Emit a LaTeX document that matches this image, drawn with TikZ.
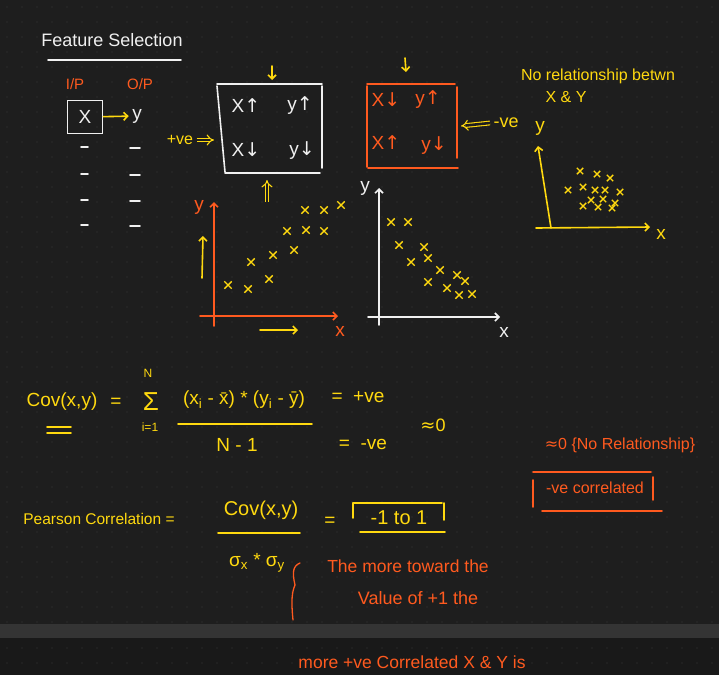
\documentclass[tikz,border=0pt]{standalone}
\usepackage{fontspec}
\setmainfont{Liberation Sans}
\newfontfamily\symf{DejaVu Sans}
\usetikzlibrary{positioning,arrows.meta,calc,shapes.misc}
\definecolor{nbback}{HTML}{1E1E1E}
\definecolor{nbdeep}{HTML}{191919}
\definecolor{nbdot}{HTML}{383838}
\definecolor{nbband}{HTML}{343434}
\definecolor{nbyellow}{HTML}{FFD90F}
\definecolor{nborange}{HTML}{FF5A1F}
\definecolor{nbwhite}{HTML}{F0F0F0}

\tikzset{
  ink/.style={line width=1.6pt, line cap=round},
  tip/.style={-{Straight Barb[length=4pt,width=8pt]}},
  dbl/.style={nbyellow, line width=1.1pt, double=nbback, double distance=2.6pt, -{Implies}},
  xmark/.style={cross out, draw=nbyellow, line width=1.4pt, minimum size=6pt, inner sep=0pt},
  hand/.style={font=\fontsize{16}{18}\selectfont},
  big/.style={font=\fontsize{19}{21}\selectfont},
  small/.style={font=\fontsize{15}{17}\selectfont},
  tiny/.style={font=\fontsize{12}{14}\selectfont},
}

\begin{document}
\begin{tikzpicture}[x=1pt,y=-1pt]
  % page and dot grid
  \fill[nbback] (0,0) rectangle (719,675);
  \foreach \i in {0,...,47}
    \foreach \j in {0,...,41}
      \fill[nbdot] (\i*15+7,\j*15+7) circle (0.6pt);
  \fill[nbband] (0,624) rectangle (719,638);
  \fill[nbdeep] (0,638) rectangle (719,675);
  \foreach \i in {0,...,47}
    \foreach \j in {0,1}
      \fill[nbdot] (\i*15+7,\j*15+648) circle (0.6pt);

  % title
  \node[nbwhite, font=\fontsize{18}{20}\selectfont] (title) at (112,40) {Feature Selection};
  \draw[nbwhite!85, ink] (48,60) -- (181,60);

  % input / output
  \node[nborange, small] (inp) at (75,84) {I/P};
  \node[nborange, small] (outp) at (140,84) {O/P};
  \node[draw=nbyellow, ink, minimum width=35pt, minimum height=33pt, nbwhite, big] (xin) at (85,117) {X};
  \node[nbwhite, big] (yout) at (137,116) {y};
  \draw[nbyellow, ink, tip] (xin) -- (yout);
  \foreach \y in {147,174,200,225} {
    \draw[nbwhite, ink] (81,\y) -- (88,\y);
    \draw[nbwhite, ink] (130,\y+1) -- (140,\y+1);
  }

  % positive box
  \draw[nbwhite, ink] (217,86) -- (225,172);
  \draw[nbwhite, ink] (217,84) -- (322,84);
  \draw[nbwhite, ink] (322,86) -- (322,168);
  \draw[nbwhite, ink] (225,173) -- (320,173);
  \node[nbwhite, big] (pxu) at (246,106) {X{\symf↑}};
  \node[nbwhite, big] (pyu) at (300,106) {y{\symf↑}};
  \node[nbwhite, big] (pxd) at (246,150) {X{\symf↓}};
  \node[nbwhite, big] (pyd) at (302,151) {y{\symf↓}};
  \coordinate (ptop) at (272,80);
  \draw[nbyellow, ink, tip] (272,66) -- (ptop);
  \node[nbyellow, hand] (pve) at (180,140) {+ve};
  \coordinate (pwest) at (214,140);
  \draw[dbl] (pve.east) -- (pwest);
  \coordinate (pbot) at (267,180);
  \draw[dbl] (267,202) -- (pbot);

  % negative box
  \draw[nborange, ink] (367,84) -- (455,84);
  \draw[nborange, ink] (367,86) -- (367,167);
  \draw[nborange, ink] (457,87) -- (457,158);
  \draw[nborange, ink] (368,168) -- (458,168);
  \node[nborange, big] (nxd) at (386,100) {X{\symf↓}};
  \node[nborange, big] (nyu) at (428,100) {y{\symf↑}};
  \node[nborange, big] (nxu) at (386,143) {X{\symf↑}};
  \node[nborange, big] (nyd) at (434,146) {y{\symf↓}};
  \coordinate (ntop) at (406,72);
  \draw[nbyellow, ink, tip] (405,58) -- (ntop);
  \node[nbyellow, font=\fontsize{18}{20}\selectfont] (nve) at (506,123) {-ve};
  \coordinate (neast) at (461,126);
  \draw[dbl] (nve.west) -- (neast);

  % no relationship
  \node[nbyellow, hand] (norel) at (598,76) {No relationship betwn};
  \node[nbyellow, hand] (noxy) at (566,97) {X \& Y};
  \coordinate (zo) at (551,228);
  \coordinate (zy) at (538,146);
  \coordinate (zx) at (650,227);
  \draw[nbyellow, ink, tip] (zo) -- (zy);
  \draw[nbyellow, ink, tip] (536,228) -- (zx);
  \node[nbyellow, big] (zylab) at (540,128) {y};
  \node[nbyellow, big] (zxlab) at (661,234) {x};
  \foreach \p in {(580,171),(597,174),(610,178),(568,190),(583,187),(595,190),(605,190),(620,192),
                  (591,200),(603,199),(615,203),(583,206),(598,207),(612,208)}
    \node[xmark, minimum size=5pt] at \p {};

  % positive scatter
  \coordinate (po) at (214,326);
  \coordinate (py) at (214,202);
  \coordinate (px) at (338,316);
  \draw[nborange, ink, tip] (po) -- (py);
  \draw[nborange, ink, tip] (200,316) -- (px);
  \node[nborange, big] (pylab) at (199,207) {y};
  \node[nborange, big] (pxlab) at (340,331) {x};
  \coordinate (pup) at (203,236);
  \draw[nbyellow, ink, tip] (202,278) -- (pup);
  \coordinate (pright) at (298,330);
  \draw[nbyellow, ink, tip] (260,330) -- (pright);
  \foreach \p in {(228,285),(248,289),(269,279),(251,262),(273,255),(294,250),
                  (287,231),(306,230),(324,231),(305,210),(324,210),(341,205)}
    \node[xmark] at \p {};

  % negative scatter
  \coordinate (no) at (379,325);
  \coordinate (ny) at (379,188);
  \coordinate (nx) at (500,317);
  \draw[nbwhite, ink, tip] (no) -- (ny);
  \draw[nbwhite, ink, tip] (368,317) -- (nx);
  \node[nbwhite, big] (nylab) at (365,188) {y};
  \node[nbwhite, big] (nxlab) at (504,332) {x};
  \foreach \p in {(391,222),(408,222),(399,245),(424,247),(411,262),(428,258),(440,270),
                  (457,275),(465,281),(428,282),(447,288),(459,295),(472,294)}
    \node[xmark] at \p {};

  % covariance
  \node[nbyellow, big] (cov) at (62,402) {Cov(x,y)};
  \draw[nbyellow, ink] (47,427) -- (71,427);
  \draw[nbyellow, ink] (47,433) -- (71,433);
  \node[nbyellow, big] (coveq) at (116,403) {=};
  \node[nbyellow, font=\fontsize{26}{26}\selectfont] (sig) at (151,402) {Σ};
  \node[nbyellow, tiny] (sigtop) at (148,373) {N};
  \node[nbyellow, tiny] (sigbot) at (150,427) {i=1};
  \node[nbyellow, big] (num) at (244,400) {(x\textsubscript{i} - \={x}) * (y\textsubscript{i} - \={y})};
  \draw[nbyellow, ink] (178,424) -- (312,424);
  \node[nbyellow, big] (den) at (237,445) {N - 1};
  \node[nbyellow, big] (cpos) at (358,397) {=~~+ve};
  \node[nbyellow, big] (cneg) at (363,444) {=~~-ve};
  \node[nbyellow, font=\fontsize{18}{20}\selectfont] (czero) at (433,425) {{\symf≈}0};

  % correlated notes
  \node[nborange, hand] (zeronote) at (620,445) {{\symf≈}0 \{No Relationship\}};
  \node[nborange, hand] (negnote) at (595,488) {-ve correlated};
  \draw[nborange, ink] (533,472) -- (651,472);
  \draw[nborange, ink] (533,480) -- (533,507);
  \draw[nborange, ink] (653,477) -- (653,500);
  \draw[nborange, ink] (542,511) -- (662,511);

  % pearson
  \node[nbyellow, font=\fontsize{15.5}{18}\selectfont] (pear) at (99,519) {Pearson Correlation =};
  \node[nbyellow, font=\fontsize{20}{22}\selectfont] (pnum) at (261,510) {Cov(x,y)};
  \draw[nbyellow, ink] (218,533) -- (300,533);
  \node[nbyellow, font=\fontsize{19}{21}\selectfont] (pden) at (257,563) {σ\textsubscript{x} * σ\textsubscript{y}};
  \node[nbyellow, big] (peq) at (330,522) {=};
  \node[nbyellow, font=\fontsize{20}{22}\selectfont] (prange) at (399,518) {-1 to 1};
  \draw[nbyellow, ink] (353,503) -- (442,503);
  \draw[nbyellow, ink] (353,503) -- (353,518);
  \draw[nbyellow, ink] (444,503) -- (444,520);
  \draw[nbyellow, ink] (360,532) -- (445,532);
  \draw[nborange, line width=1.3pt, line cap=round]
    (300,563) .. controls (293,566) and (292,572) .. (295,585)
    .. controls (292,592) and (291,600) .. (293,620);
  \node[nborange, font=\fontsize{17.5}{20}\selectfont] (note1) at (408,566) {The more toward the};
  \node[nborange, font=\fontsize{18}{20}\selectfont] (note2) at (418,598) {Value of +1 the};
  \node[nborange, font=\fontsize{17.5}{20}\selectfont] (note3) at (412,662) {more +ve Correlated X \& Y is};
\end{tikzpicture}
\end{document}
